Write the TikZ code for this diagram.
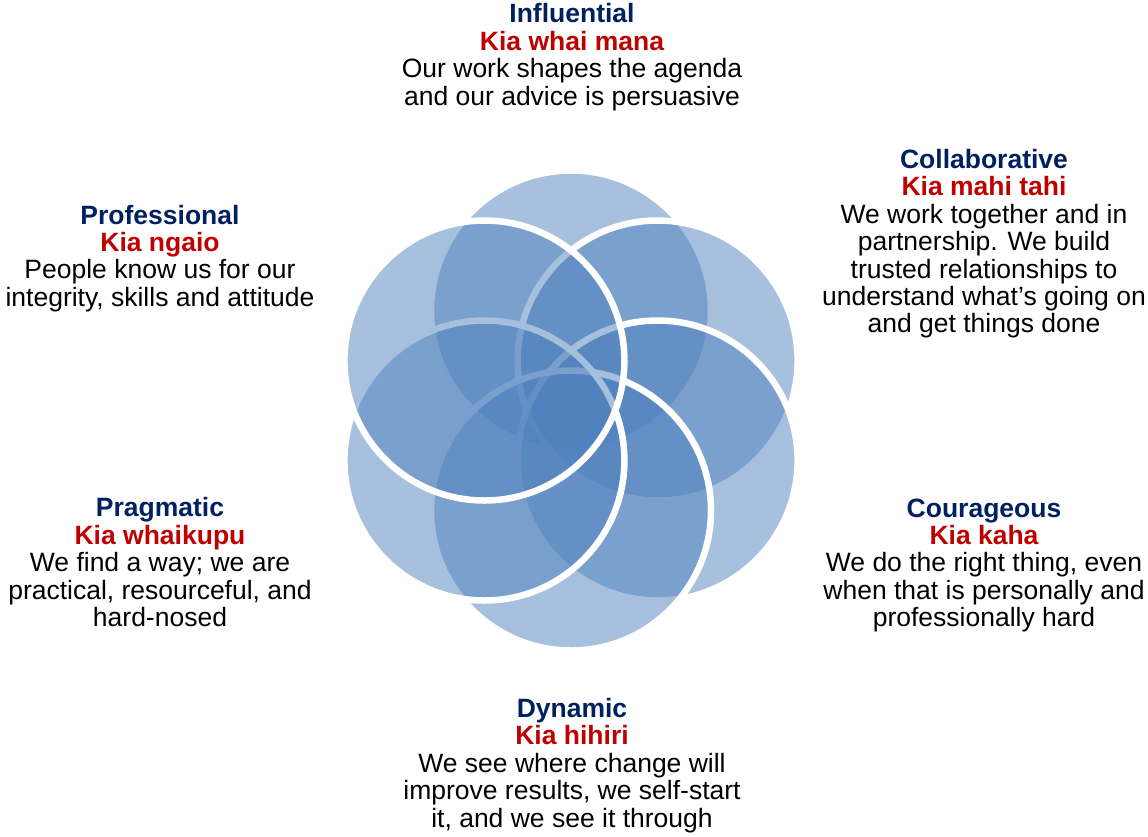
\documentclass[tikz,border=0pt]{standalone}
\usepackage{fontspec}
\setmainfont{Liberation Sans}
\usepackage{tikz}

\definecolor{petalblue}{RGB}{79,129,189}
\definecolor{valuenavy}{RGB}{0,32,96}
\definecolor{valuered}{RGB}{192,0,0}

\newcommand{\valuename}[2]{{\bfseries\color{valuenavy}#1}\\{\bfseries\color{valuered}#2}}

\begin{document}
\begin{tikzpicture}[x=1pt,y=1pt]
  \tikzstyle{petal}=[circle,minimum size=280pt,inner sep=0pt,fill=petalblue,
                     fill opacity=0.5,draw=white,line width=6.5pt]
  \tikzstyle{value}=[align=center,inner sep=0pt,anchor=north,
                     font=\fontsize{26.5}{27.4}\selectfont]

  \useasboundingbox (0,0) rectangle (1148,-836);

  \coordinate (hub) at (571,-410.5);

  % drawn clockwise from the top, each one lies over the one before
  \node[petal] (petal1) at ([shift={(90:100)}]hub)   {};
  \node[petal] (petal2) at ([shift={(30:100)}]hub)   {};
  \node[petal] (petal3) at ([shift={(-30:100)}]hub)  {};
  \node[petal] (petal4) at ([shift={(-90:100)}]hub)  {};
  \node[petal] (petal5) at ([shift={(-150:100)}]hub) {};
  \node[petal] (petal6) at ([shift={(150:100)}]hub)  {};

  \node[value] (influential)   at (572,-3.4)   {\valuename{Influential}{Kia whai mana}\\
      Our work shapes the agenda\\and our advice is persuasive};
  \node[value] (collaborative) at (984,-149)   {\valuename{Collaborative}{Kia mahi tahi}\\
      We work together and in\\partnership. We build\\trusted relationships to\\
      understand what’s going on\\and get things done};
  \node[value] (courageous)    at (984,-498.4) {\valuename{Courageous}{Kia kaha}\\
      We do the right thing, even\\when that is personally and\\professionally hard};
  \node[value] (dynamic)       at (572,-698)   {\valuename{Dynamic}{Kia hihiri}\\
      We see where change will\\improve results, we self-start\\it, and we see it through};
  \node[value] (pragmatic)     at (160,-497.4) {\valuename{Pragmatic}{Kia whaikupu}\\
      We find a way; we are\\practical, resourceful, and\\hard-nosed};
  \node[value] (professional)  at (160,-204.7) {\valuename{Professional}{Kia ngaio}\\
      People know us for our\\integrity, skills and attitude};

\end{tikzpicture}
\end{document}
